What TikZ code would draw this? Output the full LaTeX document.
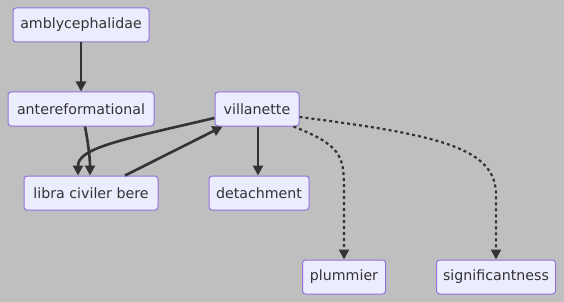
\documentclass[tikz,border=0pt]{standalone}
\usepackage{fontspec}
\setmainfont{DejaVu Sans}
\usetikzlibrary{arrows.meta,calc}
\definecolor{bgc}{RGB}{191,191,191}
\definecolor{boxfill}{RGB}{236,236,255}
\definecolor{boxline}{RGB}{147,112,219}
\definecolor{ink}{RGB}{51,51,51}
\tikzset{
  box/.style={draw=boxline, fill=boxfill, line width=1pt, rounded corners=3pt,
    minimum height=34pt, inner sep=0pt, text=ink,
    font=\fontsize{14.2}{16}\selectfont},
  link/.style={draw=ink, line width=2.6pt, -{Triangle[length=10pt,width=10pt]}},
  dotlink/.style={link, line width=2.2pt, dash pattern=on 3pt off 3pt}
}
\begin{document}
\begin{tikzpicture}[x=1pt,y=-1pt]
  \fill[bgc] (0,0) rectangle (564,302);
  \useasboundingbox (0,0) rectangle (564,302);

  \node[box, minimum width=136pt] (amb) at (81,25) {amblycephalidae};
  \node[box, minimum width=146pt] (ant) at (81,109) {antereformational};
  \node[box, minimum width=84pt]  (vil) at (257,109) {villanette};
  \node[box, minimum width=134pt] (lib) at (91,193) {libra civiler bere};
  \node[box, minimum width=100pt] (det) at (259,193) {detachment};
  \node[box, minimum width=83pt]  (plu) at (344,277) {plummier};
  \node[box, minimum width=119pt] (sig) at (496,277) {significantness};

  \draw[link] (amb) -- (ant);
  \draw[link] ($(ant.south)+(4,0)$) .. controls (88,142) and (90,158) .. ($(lib.north)+(-1,0)$);
  \draw[link] ($(vil.west)+(0,9)$) .. controls (120,140) and (78,148) .. ($(lib.north)+(-13,0)$);
  \draw[link] ($(lib.north)+(34,0)$) -- ($(vil.south west)+(8,0)$);
  \draw[link] ($(vil.south)+(1,0)$) -- ($(det.north)+(-1,0)$);
  \draw[dotlink] ($(vil.south east)+(-6,0)$) .. controls (340,145) and (344,155) .. (344,188) -- (plu.north);
  \draw[dotlink] ($(vil.east)+(0,8)$) .. controls (440,135) and (496,148) .. (496,195) -- (sig.north);
\end{tikzpicture}
\end{document}
